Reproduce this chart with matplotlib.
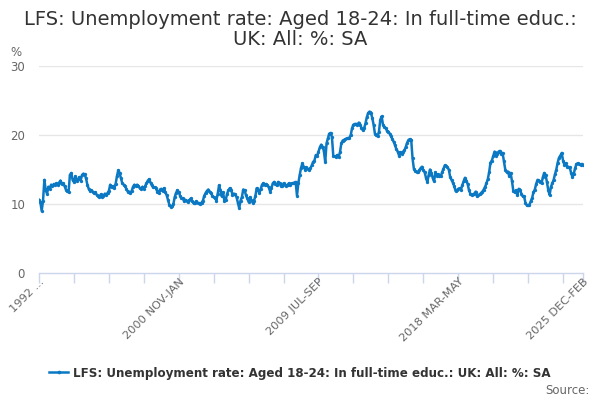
import numpy as np
import matplotlib
matplotlib.use("Agg")
import matplotlib.pyplot as plt
from matplotlib.lines import Line2D

# ── Data: monthly rolling quarters, 1992 MAR-MAY .. 2025 DEC-FEB (%) ─────────
rate = [
    10.6, 10.3, 9.0, 10.5, 13.5, 12.0, 11.5, 12.5, 12.2, 12.8,               # 1992
    12.6, 12.9, 12.7, 13.0, 12.8, 13.1, 13.4, 12.9, 13.0, 12.6, 12.1, 11.9,  # 1993
    11.7, 14.2, 14.5, 13.5, 13.2, 14.0, 13.3, 13.6, 13.9, 13.4, 14.2, 14.4,  # 1994
    14.3, 13.7, 12.8, 12.2, 11.9, 12.0, 11.8, 11.6, 11.7, 11.3, 11.2, 11.0,  # 1995
    11.4, 11.0, 11.2, 11.5, 11.3, 11.6, 11.9, 12.8, 12.4, 12.6, 12.3, 12.9,  # 1996
    14.0, 14.9, 14.5, 13.7, 13.0, 12.8, 12.6, 12.2, 11.8, 11.8, 11.6, 11.9,  # 1997
    12.5, 12.8, 12.6, 12.8, 12.6, 12.3, 12.2, 12.5, 12.2, 12.6, 13.0, 13.4,  # 1998
    13.6, 13.1, 12.7, 12.4, 12.4, 12.3, 11.8, 11.6, 12.1, 12.2, 11.9, 12.3,  # 1999
    11.7, 11.3, 10.6, 9.9, 9.6, 9.7, 10.0, 11.0, 11.6, 12.0, 11.7, 11.2,     # 2000
    10.9, 10.8, 10.4, 10.6, 10.5, 10.3, 10.6, 10.8, 10.4, 10.1, 10.2, 10.4,  # 2001
    10.2, 10.1, 10.0, 10.2, 10.5, 11.2, 11.6, 11.9, 12.1, 11.8, 11.6, 11.2,  # 2002
    11.0, 10.9, 10.5, 11.5, 12.7, 12.0, 11.1, 11.7, 10.4, 10.6, 11.5, 12.0,  # 2003
    12.3, 12.1, 11.3, 11.5, 11.4, 11.0, 10.2, 9.4, 10.5, 11.0, 12.1, 12.0,   # 2004
    11.3, 10.8, 10.3, 11.0, 10.6, 10.2, 10.5, 11.1, 12.3, 12.0, 11.6, 12.2,  # 2005
    12.8, 13.0, 12.8, 12.9, 12.7, 12.4, 11.8, 12.3, 13.0, 13.2, 12.9, 12.7,  # 2006
    13.2, 13.0, 12.6, 12.6, 13.0, 12.8, 12.6, 12.8, 13.0, 12.8, 13.0, 13.0,  # 2007
    13.1, 13.2, 11.2, 13.0, 14.2, 15.2, 15.9, 15.4, 15.0, 15.3, 15.1, 15.0,  # 2008
    15.2, 15.6, 16.1, 16.3, 17.1, 16.9, 17.6, 18.2, 18.6, 18.3, 17.7, 16.1,  # 2009
    18.8, 19.5, 20.2, 20.3, 19.7, 17.0, 16.9, 16.8, 17.1, 16.8, 17.5, 18.8,  # 2010
    19.2, 19.3, 19.4, 19.5, 19.5, 19.6, 20.0, 21.0, 21.5, 21.6, 21.6, 21.5,  # 2011
    21.8, 21.5, 21.0, 20.7, 21.0, 21.7, 22.6, 23.2, 23.4, 23.2, 22.5, 21.5,  # 2012
    20.2, 20.0, 19.8, 20.5, 22.2, 22.7, 21.5, 21.2, 21.0, 20.6, 20.5, 20.2,  # 2013
    19.8, 19.4, 19.0, 18.5, 17.9, 17.6, 17.0, 17.5, 17.3, 17.6, 17.8, 18.3,  # 2014
    18.9, 19.3, 19.4, 19.3, 16.6, 15.1, 14.8, 14.7, 14.6, 14.9, 15.2, 15.4,  # 2015
    14.9, 14.6, 13.8, 13.2, 14.2, 15.0, 14.5, 13.8, 13.3, 14.6, 14.1, 14.3,  # 2016
    14.1, 14.0, 14.6, 15.1, 15.6, 15.5, 15.3, 15.0, 13.9, 13.5, 13.1, 12.6,  # 2017
    11.9, 12.0, 12.2, 12.3, 12.1, 12.7, 13.3, 13.8, 13.4, 12.9, 12.0, 11.5,  # 2018
    11.3, 11.4, 11.5, 11.8, 11.1, 11.3, 11.4, 11.6, 11.8, 12.1, 12.5, 13.0,  # 2019
    13.6, 14.6, 16.0, 16.3, 16.9, 17.6, 17.0, 17.2, 17.6, 17.7, 17.3, 17.4,  # 2020
    16.2, 15.0, 14.6, 14.7, 14.0, 14.5, 13.3, 11.9, 11.7, 12.0, 11.3, 12.2,  # 2021
    12.0, 11.5, 11.1, 11.1, 10.2, 9.8, 9.8, 9.9, 10.4, 10.9, 11.7, 12.1,     # 2022
    12.9, 13.5, 13.4, 13.2, 13.0, 13.9, 14.5, 14.2, 13.2, 12.0, 11.3, 12.5,  # 2023
    13.0, 13.5, 14.3, 15.0, 16.0, 16.7, 17.0, 17.4, 16.3, 15.7, 15.9, 15.4,  # 2024
    15.4, 15.3, 14.5, 13.9, 14.4, 15.2, 15.8, 15.9, 15.8, 15.7, 15.8, 15.7,  # 2025
]

tick_step = 26
label_idx = [0, 104, 208, 312, 405]
label_txt = ["1992 ...", "2000 NOV-JAN", "2009 JUL-SEP", "2018 MAR-MAY", "2025 DEC-FEB"]
y_ticks = [0, 10, 20, 30]

title = "LFS: Unemployment rate: Aged 18-24: In full-time educ.:\nUK: All: %: SA"
series_name = "LFS: Unemployment rate: Aged 18-24: In full-time educ.: UK: All: %: SA"

line_col = "#0a78c2"
grid_col = "#e6e6e6"
axis_col = "#ccd6eb"
text_col = "#333333"
label_col = "#666666"

plt.rcParams['font.family'] = ['DejaVu Sans']

fig = plt.figure(figsize=(6, 4), dpi=100)
fig.patch.set_facecolor('white')
ax = fig.add_axes([0.065, 0.3175, 0.907, 0.5175])

x = np.arange(len(rate))
ax.plot(x, rate, color=line_col, lw=1.8, marker='o', markersize=2.4,
        markeredgewidth=0, zorder=3)

ax.set_xlim(0, len(rate) - 1)
ax.set_ylim(0, 30)

# gridlines
for v in y_ticks[1:]:
    ax.axhline(v, color=grid_col, lw=1, zorder=1)
ax.set_yticks(y_ticks)
ax.set_yticklabels([str(v) for v in y_ticks])
ax.tick_params(axis='y', length=0, pad=10, labelsize=8.5, labelcolor=label_col)

# x ticks: every 26 periods, plus the last one
ticks = list(range(0, len(rate), tick_step)) + [len(rate) - 1]
labels = [label_txt[label_idx.index(t)] if t in label_idx else "" for t in ticks]
ax.set_xticks(ticks)
ax.set_xticklabels(labels, rotation=45, ha='right', rotation_mode='anchor')
ax.tick_params(axis='x', length=7.5, width=1, color=axis_col, labelsize=8.2,
               labelcolor=label_col, pad=-5)

for s in ['top', 'right', 'left']:
    ax.spines[s].set_visible(False)
ax.spines['bottom'].set_color(axis_col)
ax.spines['bottom'].set_linewidth(1)

fig.text(0.5, 0.975, title, ha='center', va='top', fontsize=14,
         color=text_col, linespacing=1.05)
fig.text(0.017, 0.868, "%", ha='left', va='center', fontsize=8.5, color=label_col)

handle = Line2D([], [], color=line_col, lw=1.8, marker='o', markersize=2.6,
                markeredgewidth=0)
leg = fig.legend([handle], [series_name], loc='center', bbox_to_anchor=(0.5, 0.0675),
                 frameon=False, handlelength=1.6, handletextpad=0.4,
                 prop={'size': 8.6, 'weight': 'bold'})
for t in leg.get_texts():
    t.set_color(text_col)

fig.text(0.982, 0.025, "Source:", ha='right', va='center', fontsize=8.5, color=label_col)

fig.savefig("out.png", dpi=100, facecolor='white')
